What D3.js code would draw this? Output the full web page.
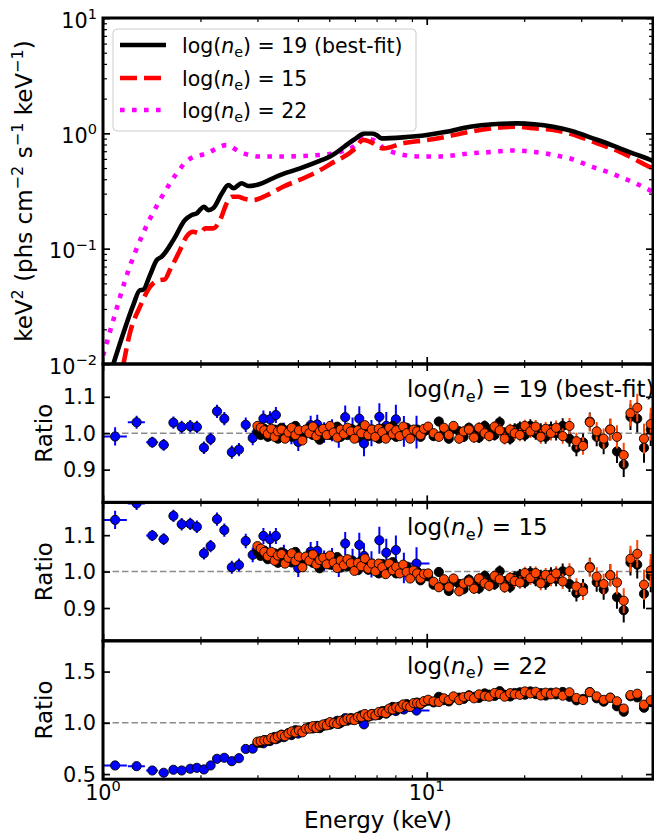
<!DOCTYPE html>
<html><head><meta charset="utf-8">
<script src="https://cdn.jsdelivr.net/npm/d3@7"></script>
<style>
body{margin:0;background:#fff}
svg{display:block}
text{font-family:"DejaVu Sans",sans-serif;fill:#000}
</style>
</head><body><svg id="c" width="654" height="835"></svg>
<script>
// ---------------- DATA ----------------
// model spectra (E in keV, keV^2 phs cm^-2 s^-1 keV^-1)
const modelE19 = [1.07, 1.155, 1.24, 1.30, 1.33, 1.397, 1.465, 1.517, 1.649, 1.792, 1.88, 1.948, 1.99, 2.05, 2.115, 2.19, 2.33, 2.44, 2.53, 2.68, 2.81, 2.98, 3.52, 4.06, 4.69, 5.03, 5.94, 6.44, 6.77, 7.0, 7.24, 8.44, 10.0, 11.5, 13.6, 16.0, 19.0, 21.5, 24.6, 28.0, 32.6, 36.0, 39.5, 44.0, 49.0, 50.0];
const model19 = [0.0095, 0.0184, 0.0324, 0.0437, 0.044, 0.059, 0.0796, 0.085, 0.1186, 0.177, 0.196, 0.2026, 0.216, 0.231, 0.216, 0.224, 0.302, 0.356, 0.334, 0.369, 0.349, 0.356, 0.435, 0.497, 0.58, 0.63, 0.875, 1.0, 1.0, 0.967, 0.905, 0.923, 0.966, 1.03, 1.14, 1.20, 1.22, 1.20, 1.14, 1.05, 0.905, 0.82, 0.74, 0.66, 0.59, 0.575];
const modelE15 = [1.155, 1.21, 1.30, 1.397, 1.50, 1.55, 1.61, 1.73, 1.81, 1.90, 1.99, 2.07, 2.19, 2.30, 2.41, 2.50, 2.62, 2.71, 2.91, 3.20, 3.60, 4.26, 4.69, 5.03, 5.94, 6.37, 6.68, 7.34, 8.44, 10.0, 11.5, 13.6, 16.0, 19.0, 21.5, 24.6, 28.0, 32.6, 36.0, 39.5, 44.0, 49.0, 50.0];
const model15 = [0.0098, 0.0184, 0.0313, 0.0467, 0.0535, 0.054, 0.0654, 0.0974, 0.127, 0.14, 0.136, 0.150, 0.150, 0.177, 0.247, 0.282, 0.282, 0.273, 0.264, 0.29, 0.344, 0.42, 0.48, 0.54, 0.717, 0.875, 0.846, 0.741, 0.82, 0.875, 0.935, 1.03, 1.105, 1.14, 1.105, 1.07, 0.986, 0.846, 0.765, 0.69, 0.595, 0.51, 0.50];
const modelE22 = [1.00, 1.076, 1.18, 1.33, 1.50, 1.69, 1.83, 2.09, 2.41, 2.65, 3.05, 3.60, 4.69, 5.40, 5.94, 6.37, 6.84, 7.50, 9.50, 11.0, 13.6, 16.0, 18.5, 21.5, 24.6, 28.0, 32.6, 36.0, 39.5, 44.0, 49.0, 50.0];
const model22 = [0.0118, 0.024, 0.057, 0.136, 0.264, 0.45, 0.587, 0.67, 0.79, 0.69, 0.63, 0.63, 0.65, 0.69, 0.765, 0.905, 0.875, 0.72, 0.63, 0.63, 0.67, 0.69, 0.71, 0.69, 0.65, 0.60, 0.51, 0.465, 0.42, 0.37, 0.32, 0.31];

// low-energy instrument (blue)
const blueE = [1.09, 1.27, 1.42, 1.54, 1.65, 1.75, 1.86, 1.95, 2.05, 2.15, 2.25, 2.37, 2.50, 2.63, 2.76, 2.90, 3.13, 3.28, 3.42, 3.62, 3.82, 4.01, 4.38, 4.59, 4.82, 5.10, 5.35, 5.60, 5.90, 6.19, 6.40, 6.75, 7.14, 7.50, 8.03, 8.50, 9.30];
const blueXerr = [0.095, 0.077, 0.06, 0.055, 0.05, 0.05, 0.05, 0.045, 0.05, 0.05, 0.055, 0.06, 0.065, 0.065, 0.07, 0.07, 0.08, 0.07, 0.08, 0.1, 0.1, 0.1, 0.12, 0.1, 0.12, 0.14, 0.12, 0.13, 0.15, 0.14, 0.08, 0.2, 0.17, 0.19, 0.25, 0.25, 0.9];
const blueErr = [0.025, 0.018, 0.015, 0.016, 0.017, 0.017, 0.017, 0.017, 0.017, 0.017, 0.018, 0.018, 0.018, 0.018, 0.02, 0.02, 0.022, 0.022, 0.022, 0.024, 0.025, 0.025, 0.026, 0.027, 0.028, 0.03, 0.03, 0.032, 0.033, 0.034, 0.035, 0.036, 0.037, 0.038, 0.04, 0.042, 0.045];
const blueR19 = [0.991, 1.030, 0.975, 0.968, 1.029, 1.017, 1.019, 1.017, 0.960, 0.984, 1.060, 1.040, 0.948, 0.955, 1.023, 0.987, 1.040, 1.038, 1.050, 1.005, 0.995, 0.976, 1.022, 1.024, 1.002, 1.008, 0.990, 1.044, 1.010, 1.040, 0.972, 1.000, 1.045, 1.020, 1.038, 1.005, 1.003];
const blueR15 = [1.142, 1.187, 1.099, 1.089, 1.153, 1.130, 1.131, 1.123, 1.050, 1.070, 1.144, 1.114, 1.012, 1.018, 1.084, 1.046, 1.098, 1.089, 1.098, 1.050, 1.038, 1.010, 1.055, 1.057, 1.030, 1.035, 1.015, 1.077, 1.030, 1.073, 1.043, 1.020, 1.086, 1.052, 1.059, 1.010, 1.022];
const blueR22 = [0.584, 0.577, 0.535, 0.513, 0.542, 0.535, 0.552, 0.561, 0.545, 0.584, 0.649, 0.659, 0.626, 0.655, 0.745, 0.748, 0.800, 0.822, 0.840, 0.860, 0.880, 0.895, 0.950, 0.970, 0.975, 0.995, 0.990, 1.045, 1.030, 1.050, 0.985, 1.070, 1.094, 1.090, 1.115, 1.130, 1.120];

// hard X-ray data: FPMA (black) and FPMB (orange)
const nuE = [3.00, 3.07, 3.15, 3.23, 3.31, 3.39, 3.47, 3.56, 3.65, 3.74, 3.83, 3.93, 4.03, 4.13, 4.23, 4.34, 4.45, 4.56, 4.67, 4.79, 4.91, 5.03, 5.16, 5.29, 5.42, 5.55, 5.69, 5.83, 5.98, 6.13, 6.28, 6.44, 6.60, 6.77, 6.94, 7.11, 7.29, 7.47, 7.66, 7.85, 8.05, 8.25, 8.46, 8.67, 8.89, 9.11, 9.34, 9.57, 9.81, 10.1, 10.5, 10.9, 11.3, 11.7, 12.1, 12.6, 13.0, 13.5, 14.0, 14.5, 15.1, 15.6, 16.2, 16.8, 17.4, 18.1, 18.7, 19.4, 20.1, 20.9, 21.7, 22.5, 23.3, 24.2, 25.1, 26.3, 27.6, 29.0, 30.4, 31.9, 33.5, 35.2, 36.9, 38.7, 40.6, 42.6, 44.7, 46.9, 49.2];
const nuErr = [0.008,0.008,0.008,0.008,0.008,0.008,0.008,0.008,0.008,0.008,0.009,0.009,0.009,0.009,0.009,0.009,0.009,0.009,0.009,0.009,0.010,0.010,0.010,0.010,0.010,0.010,0.010,0.010,0.010,0.010,0.011,0.011,0.011,0.011,0.011,0.011,0.011,0.011,0.011,0.011,0.012,0.012,0.012,0.012,0.012,0.012,0.012,0.012,0.012,0.012,0.012,0.013,0.013,0.013,0.013,0.014,0.014,0.014,0.014,0.015,0.015,0.015,0.015,0.016,0.016,0.016,0.017,0.017,0.017,0.018,0.018,0.019,0.019,0.020,0.020,0.021,0.022,0.023,0.024,0.025,0.026,0.028,0.030,0.032,0.034,0.036,0.038,0.041,0.045];
const fpmaR19 = [1.005, 0.995, 1.012, 0.990, 1.000, 1.010, 0.985, 1.015, 0.998, 1.008, 0.990, 1.020, 1.000, 0.988, 1.005, 1.015, 0.995, 1.010, 0.982, 1.000, 1.012, 0.995, 1.005, 1.018, 0.990, 1.008, 0.995, 1.012, 1.000, 0.988, 1.015, 1.005, 0.992, 1.010, 1.000, 0.985, 1.012, 1.005, 0.995, 1.020, 0.990, 1.008, 1.000, 1.015, 0.995, 1.005, 1.010, 0.990, 1.005, 1.010, 0.992, 1.032, 1.000, 0.985, 1.012, 1.005, 0.990, 1.015, 1.000, 0.988, 1.020, 1.008, 0.995, 1.030, 1.000, 0.985, 1.010, 1.015, 0.995, 1.020, 1.000, 1.008, 0.990, 1.012, 1.000, 1.020, 0.985, 0.960, 0.975, 1.032, 0.990, 0.970, 1.010, 0.950, 0.914, 1.045, 1.040, 0.960, 1.010];
const fpmbR19 = [1.020, 1.015, 1.008, 0.998, 1.012, 0.990, 1.005, 1.010, 0.985, 1.002, 1.015, 0.995, 1.008, 0.980, 1.010, 1.000, 1.018, 0.992, 1.005, 1.012, 0.995, 1.020, 1.002, 0.988, 1.010, 0.998, 1.015, 1.005, 0.985, 1.008, 1.000, 1.022, 0.995, 1.010, 0.990, 1.012, 1.003, 0.985, 1.015, 0.998, 1.008, 0.992, 1.018, 1.000, 0.985, 1.010, 1.005, 0.995, 1.012, 1.018, 1.000, 0.990, 1.015, 0.995, 1.020, 0.985, 1.005, 1.010, 0.988, 1.015, 1.000, 0.992, 1.018, 1.008, 0.985, 1.010, 1.000, 0.995, 1.020, 1.005, 1.018, 0.990, 1.012, 1.000, 1.015, 0.992, 1.020, 0.978, 0.965, 1.030, 1.005, 0.985, 1.010, 0.990, 0.940, 1.055, 1.070, 0.985, 1.025];
const fpmaR15 = [1.055, 1.043, 1.058, 1.034, 1.042, 1.050, 1.024, 1.053, 1.035, 1.044, 1.025, 1.054, 1.033, 1.020, 1.036, 1.045, 1.024, 1.038, 1.009, 1.026, 1.037, 1.019, 1.028, 1.040, 1.011, 1.028, 1.014, 1.030, 1.017, 1.004, 1.030, 1.019, 1.005, 1.022, 1.011, 0.995, 1.021, 1.013, 1.002, 1.026, 0.995, 1.011, 1.001, 1.014, 0.991, 0.998, 1.000, 0.976, 0.987, 0.987, 0.964, 0.999, 0.964, 0.947, 0.973, 0.966, 0.952, 0.978, 0.965, 0.954, 0.988, 0.977, 0.965, 1.001, 0.972, 0.958, 0.984, 0.990, 0.971, 0.997, 0.978, 0.986, 0.969, 0.992, 0.980, 1.001, 0.966, 0.941, 0.956, 1.013, 0.971, 0.951, 0.990, 0.930, 0.894, 1.025, 1.019, 0.939, 0.988];
const fpmbR15 = [1.070, 1.063, 1.054, 1.042, 1.054, 1.030, 1.044, 1.048, 1.022, 1.038, 1.050, 1.029, 1.041, 1.012, 1.041, 1.030, 1.047, 1.020, 1.032, 1.038, 1.020, 1.044, 1.025, 1.010, 1.031, 1.018, 1.034, 1.023, 1.002, 1.024, 1.015, 1.036, 1.008, 1.022, 1.001, 1.022, 1.012, 0.993, 1.022, 1.004, 1.013, 0.995, 1.019, 0.999, 0.981, 1.003, 0.995, 0.981, 0.994, 0.995, 0.972, 0.957, 0.979, 0.957, 0.981, 0.946, 0.967, 0.973, 0.953, 0.981, 0.968, 0.961, 0.988, 0.979, 0.957, 0.983, 0.974, 0.970, 0.996, 0.982, 0.996, 0.968, 0.991, 0.980, 0.995, 0.973, 1.001, 0.959, 0.946, 1.011, 0.986, 0.966, 0.990, 0.970, 0.920, 1.035, 1.049, 0.964, 1.003];
const fpmaR22 = [0.804, 0.806, 0.832, 0.824, 0.842, 0.862, 0.849, 0.885, 0.880, 0.900, 0.893, 0.928, 0.918, 0.915, 0.940, 0.957, 0.945, 0.968, 0.948, 0.972, 0.992, 0.982, 0.999, 1.020, 1.000, 1.026, 1.021, 1.046, 1.042, 1.037, 1.073, 1.068, 1.059, 1.086, 1.083, 1.076, 1.114, 1.117, 1.116, 1.155, 1.131, 1.159, 1.158, 1.183, 1.167, 1.186, 1.198, 1.180, 1.204, 1.215, 1.199, 1.254, 1.221, 1.209, 1.248, 1.246, 1.233, 1.269, 1.254, 1.243, 1.287, 1.275, 1.262, 1.309, 1.274, 1.257, 1.291, 1.298, 1.274, 1.306, 1.280, 1.290, 1.266, 1.293, 1.277, 1.301, 1.254, 1.219, 1.234, 1.300, 1.239, 1.206, 1.245, 1.161, 1.108, 1.259, 1.248, 1.147, 1.202];
const fpmbR22 = [0.816, 0.822, 0.829, 0.830, 0.852, 0.844, 0.866, 0.881, 0.869, 0.895, 0.916, 0.905, 0.925, 0.907, 0.944, 0.943, 0.967, 0.950, 0.970, 0.984, 0.975, 1.007, 0.996, 0.990, 1.020, 1.016, 1.041, 1.039, 1.026, 1.058, 1.057, 1.086, 1.063, 1.086, 1.072, 1.105, 1.104, 1.094, 1.139, 1.130, 1.151, 1.141, 1.179, 1.166, 1.155, 1.192, 1.192, 1.186, 1.212, 1.225, 1.209, 1.203, 1.239, 1.221, 1.258, 1.221, 1.251, 1.263, 1.239, 1.277, 1.262, 1.255, 1.291, 1.281, 1.255, 1.289, 1.278, 1.273, 1.306, 1.286, 1.303, 1.267, 1.294, 1.278, 1.296, 1.265, 1.298, 1.242, 1.222, 1.298, 1.258, 1.224, 1.245, 1.210, 1.139, 1.271, 1.284, 1.177, 1.220];

// ticks and labels
const xMajor = [1, 10];
const xMajorExp = ["0", "1"];
const xMinor = [2, 3, 4, 5, 6, 7, 8, 9, 20, 30, 40];
const yTopMajor = [0.01, 0.1, 1, 10];
const yTopExp = ["\u22122", "\u22121", "0", "1"];
const yTopMinor = [2,3,4,5,6,7,8,9].flatMap(m => [0.01, 0.1, 1].map(d => m * d));
const ratioTicks = [0.9, 1.0, 1.1];
const ratioTicks22 = [0.5, 1.0, 1.5];
const legendLabels = ["19 (best-fit)", "15", "22"];
const panelLabels = ["19 (best-fit)", "15", "22"];

// ---------------- LAYOUT ----------------
const svg = d3.select("#c");
const X0 = 103, X1 = 653;
const P = [{top: 18, bot: 364}, {top: 364, bot: 502.4}, {top: 502.4, bot: 640.8}, {top: 640.8, bot: 779.2}];
const x = d3.scaleLog().domain([1, 50]).range([X0, X1]);
const yTop = d3.scaleLog().domain([0.01, 10]).range([P[0].bot, P[0].top]);
const yR = [
  d3.scaleLinear().domain([0.81, 1.19]).range([P[1].bot, P[1].top]),
  d3.scaleLinear().domain([0.81, 1.19]).range([P[2].bot, P[2].top]),
  d3.scaleLinear().domain([0.45, 1.80]).range([P[3].bot, P[3].top])
];
const FS_TICK = 20.8, FS_LAB = 23, FS_LEG = 20.5, FS_ANN = 23;
const ORANGE = "#ff4500";
const MR = 4.6;

const defs = svg.append("defs");
P.forEach((p, i) => {
  defs.append("clipPath").attr("id", "clip" + i).append("rect")
    .attr("x", X0).attr("y", p.top).attr("width", X1 - X0).attr("height", p.bot - p.top);
});

function styleAxis(g, w) {
  g.select(".domain").remove();
  g.selectAll(".tick line").attr("stroke", "#000").attr("stroke-width", w);
}

function drawTicks(p, yScale, yMajor, yMinor) {
  const g = svg.append("g");
  [[xMajor, 7, 1.7], [xMinor, 4, 1.2]].forEach(([vals, len, w]) => {
    g.append("g").attr("transform", `translate(0,${p.bot})`)
      .call(d3.axisBottom(x).tickValues(vals).tickSizeInner(-len).tickSizeOuter(0).tickFormat(""))
      .call(s => styleAxis(s, w));
    g.append("g").attr("transform", `translate(0,${p.top})`)
      .call(d3.axisTop(x).tickValues(vals).tickSizeInner(-len).tickSizeOuter(0).tickFormat(""))
      .call(s => styleAxis(s, w));
  });
  const ys = [[yMajor, 7, 1.7]];
  if (yMinor) ys.push([yMinor, 4, 1.2]);
  ys.forEach(([vals, len, w]) => {
    g.append("g").attr("transform", `translate(${X0},0)`)
      .call(d3.axisLeft(yScale).tickValues(vals).tickSizeInner(-len).tickSizeOuter(0).tickFormat(""))
      .call(s => styleAxis(s, w));
    g.append("g").attr("transform", `translate(${X1},0)`)
      .call(d3.axisRight(yScale).tickValues(vals).tickSizeInner(-len).tickSizeOuter(0).tickFormat(""))
      .call(s => styleAxis(s, w));
  });
}

function powText(sel, exp, size) {
  sel.append("tspan").text("10");
  sel.append("tspan").attr("font-size", size * 0.7).attr("dy", -size * 0.42).text(exp);
}

function mathLabel(g, xx, yy, size, rest) {
  const t = g.append("text").attr("x", xx).attr("y", yy).attr("font-size", size);
  t.append("tspan").text("log(");
  t.append("tspan").attr("font-style", "italic").text("n");
  t.append("tspan").attr("font-size", size * 0.7).attr("dy", size * 0.2).text("e");
  t.append("tspan").attr("dy", -size * 0.2).text(") = " + rest);
  return t;
}

// ---------------- TOP PANEL ----------------
const gTop = svg.append("g").attr("clip-path", "url(#clip0)");
const line = d3.line().x(d => x(d[0])).y(d => yTop(d[1])).curve(d3.curveMonotoneX);
gTop.append("path").datum(modelE22.map((e, i) => [e, model22[i]])).attr("d", line)
  .attr("fill", "none").attr("stroke", "#ff00ff").attr("stroke-width", 4.6).attr("stroke-dasharray", "4.6,7.4");
gTop.append("path").datum(modelE15.map((e, i) => [e, model15[i]])).attr("d", line)
  .attr("fill", "none").attr("stroke", "#ff0000").attr("stroke-width", 4.6).attr("stroke-dasharray", "17,7");
gTop.append("path").datum(modelE19.map((e, i) => [e, model19[i]])).attr("d", line)
  .attr("fill", "none").attr("stroke", "#000").attr("stroke-width", 4.6);

drawTicks(P[0], yTop, yTopMajor, yTopMinor);
yTopMajor.forEach((v, i) => {
  const t = svg.append("text").attr("x", 97).attr("y", yTop(v) + 9.8)
    .attr("text-anchor", "end").attr("font-size", FS_TICK);
  powText(t, yTopExp[i], FS_TICK);
});

// legend
const lg = svg.append("g");
lg.append("rect").attr("x", 113).attr("y", 29).attr("width", 303).attr("height", 102).attr("rx", 4)
  .attr("fill", "#fff").attr("fill-opacity", 0.8).attr("stroke", "#cccccc").attr("stroke-width", 1);
const legStyles = [
  {c: "#000", d: null},
  {c: "#ff0000", d: "17,7"},
  {c: "#ff00ff", d: "4.6,7.4"}
];
const legY = [45, 78, 110];
legendLabels.forEach((lab, i) => {
  const l = lg.append("line").attr("x1", 120).attr("x2", 166).attr("y1", legY[i]).attr("y2", legY[i])
    .attr("stroke", legStyles[i].c).attr("stroke-width", 4.6);
  if (legStyles[i].d) l.attr("stroke-dasharray", legStyles[i].d);
  mathLabel(lg, 182, legY[i] + 8, FS_LEG, lab);
});

// y label top
const yl = svg.append("text").attr("transform", "translate(32,191) rotate(-90)")
  .attr("text-anchor", "middle").attr("font-size", FS_LAB);
const sup = FS_LAB * 0.7, up = FS_LAB * 0.4;
yl.append("tspan").text("keV");
yl.append("tspan").attr("font-size", sup).attr("dy", -up).text("2");
yl.append("tspan").attr("dy", up).text(" (phs cm");
yl.append("tspan").attr("font-size", sup).attr("dy", -up).text("\u22122");
yl.append("tspan").attr("dy", up).text(" s");
yl.append("tspan").attr("font-size", sup).attr("dy", -up).text("\u22121");
yl.append("tspan").attr("dy", up).text(" keV");
yl.append("tspan").attr("font-size", sup).attr("dy", -up).text("\u22121");
yl.append("tspan").attr("dy", up).text(")");

// ---------------- RATIO PANELS ----------------
const ratioSets = [
  {blue: blueR19, a: fpmaR19, b: fpmbR19, ticks: ratioTicks},
  {blue: blueR15, a: fpmaR15, b: fpmbR15, ticks: ratioTicks},
  {blue: blueR22, a: fpmaR22, b: fpmbR22, ticks: ratioTicks22}
];

function drawSeries(g, yS, E, R, err, xerr, fill, ecol) {
  const d = E.map((e, i) => ({e, r: R[i], s: err[i], xe: xerr ? xerr[i] : 0}));
  const s = g.append("g");
  s.selectAll("line.v").data(d).join("line").attr("class", "v")
    .attr("x1", q => x(q.e)).attr("x2", q => x(q.e))
    .attr("y1", q => yS(q.r - q.s)).attr("y2", q => yS(q.r + q.s))
    .attr("stroke", ecol).attr("stroke-width", 2);
  if (xerr) {
    s.selectAll("line.h").data(d).join("line").attr("class", "h")
      .attr("x1", q => x(q.e - q.xe)).attr("x2", q => x(q.e + q.xe))
      .attr("y1", q => yS(q.r)).attr("y2", q => yS(q.r))
      .attr("stroke", ecol).attr("stroke-width", 2);
  }
  s.selectAll("circle").data(d).join("circle")
    .attr("cx", q => x(q.e)).attr("cy", q => yS(q.r)).attr("r", MR)
    .attr("fill", fill).attr("stroke", "#000").attr("stroke-width", 0.9);
}

ratioSets.forEach((set, k) => {
  const p = P[k + 1], yS = yR[k];
  const g = svg.append("g").attr("clip-path", `url(#clip${k + 1})`);
  g.append("line").attr("x1", X0).attr("x2", X1).attr("y1", yS(1)).attr("y2", yS(1))
    .attr("stroke", "#8c8c8c").attr("stroke-width", 1.5).attr("stroke-dasharray", "6.5,3");
  drawSeries(g, yS, blueE, set.blue, blueErr, blueXerr, "#0000ff", "#0000ff");
  drawSeries(g, yS, nuE, set.a, nuErr, null, "#000", "#000");
  drawSeries(g, yS, nuE, set.b, nuErr, null, ORANGE, ORANGE);

  drawTicks(p, yS, set.ticks, null);
  set.ticks.forEach(v => {
    svg.append("text").attr("x", 96).attr("y", yS(v) + 7.5).attr("text-anchor", "end")
      .attr("font-size", FS_TICK).text(d3.format(".1f")(v));
  });
  svg.append("text").attr("transform", `translate(51.5,${(p.top + p.bot) / 2}) rotate(-90)`)
    .attr("text-anchor", "middle").attr("font-size", FS_LAB).text("Ratio");
  mathLabel(svg, 407, p.top + 33, FS_ANN, panelLabels[k]);
});

// frames
P.forEach(p => {
  svg.append("rect").attr("x", X0).attr("y", p.top).attr("width", X1 - X0).attr("height", p.bot - p.top)
    .attr("fill", "none").attr("stroke", "#000").attr("stroke-width", 3);
});

// x tick labels and label
xMajor.forEach((v, i) => {
  const t = svg.append("text").attr("x", x(v)).attr("y", 800).attr("text-anchor", "middle").attr("font-size", FS_TICK);
  powText(t, xMajorExp[i], FS_TICK);
});
svg.append("text").attr("x", (X0 + X1) / 2).attr("y", 828).attr("text-anchor", "middle")
  .attr("font-size", FS_LAB).text("Energy (keV)");
</script></body></html>
